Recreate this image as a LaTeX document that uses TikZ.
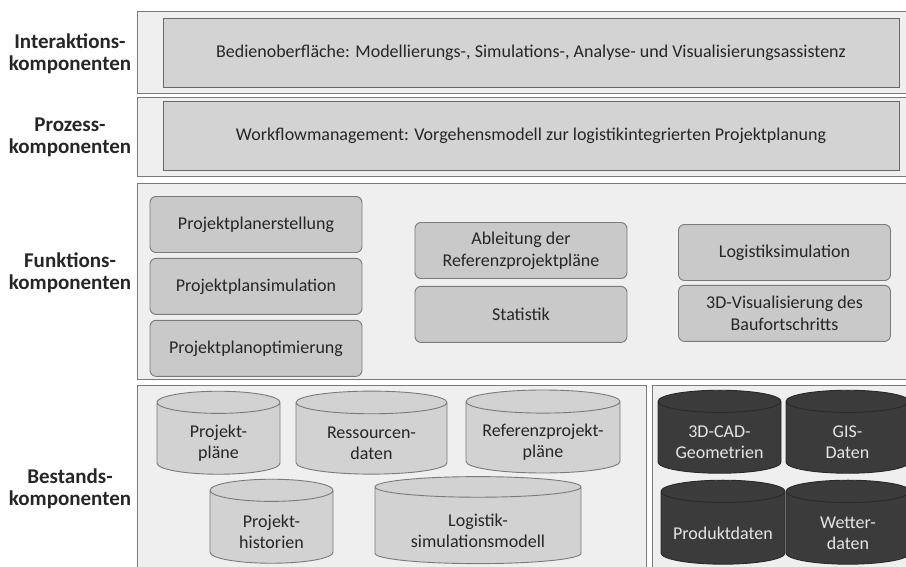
\documentclass[tikz,border=0pt]{standalone}
\usepackage{fontspec}
\setmainfont{Carlito}
\usetikzlibrary{positioning,shapes.geometric}
\definecolor{panel1}{HTML}{EFEFEF}
\definecolor{line1}{HTML}{7A7A7A}
\definecolor{box1}{HTML}{D3D3D3}
\definecolor{func1}{HTML}{C9C9C9}
\definecolor{db1}{HTML}{D2D2D2}
\definecolor{dark1}{HTML}{3B3B3B}
\definecolor{text1}{HTML}{262626}

\begin{document}
\begin{tikzpicture}[
    x=1pt, y=-1pt,
    layer/.style={draw=line1, fill=panel1, line width=0.9pt,
                  anchor=north west, inner sep=0pt},
    wide/.style={draw=line1!85!black, fill=box1, line width=0.9pt,
                 minimum width=736pt, minimum height=69pt,
                 font=\fontsize{18}{22}\selectfont, text=text1},
    func/.style={draw=line1, fill=func1, rounded corners=6pt,
                 line width=0.9pt, minimum width=212pt, minimum height=56pt,
                 align=center, font=\fontsize{18}{22}\selectfont, text=text1},
    dbtext/.style={align=center, font=\fontsize{18}{21}\selectfont,
                   text=text1, yshift=-5pt},
    db/.style={cylinder, shape border rotate=90, draw=line1, fill=db1,
               line width=0.9pt, inner xsep=0pt,
               label={[dbtext]center:{#1}}},
    ddb/.style={cylinder, shape border rotate=90, draw=dark1!70!black,
                fill=dark1, line width=0.9pt, inner xsep=0pt,
                label={[dbtext, text=white!90!black]center:{#1}}},
    oneline/.style={every label/.append style={yshift=12pt}},
    lbl/.style={align=center, font=\bfseries\fontsize{21}{22}\selectfont,
                text=text1},
]
\clip (0,0) rectangle (906,567);

% ── layers ──
\node[layer, minimum width=780pt, minimum height=82pt]  (lint) at (137,11) {};
\node[layer, minimum width=780pt, minimum height=79pt]  (lpro) at (137,97) {};
\node[layer, minimum width=780pt, minimum height=196pt] (lfun) at (137,183) {};
\node[layer, minimum width=509pt, minimum height=190pt] (lbes) at (137,385) {};
\node[layer, minimum width=260pt, minimum height=190pt] (lext) at (652,385) {};

% ── layer names ──
\node[lbl] (nint) at (70,54)  {Interaktions-\\komponenten};
\node[lbl] (npro) at (70,137) {Prozess-\\komponenten};
\node[lbl] (nfun) at (70,273) {Funktions-\\komponenten};
\node[lbl] (nbes) at (70,489) {Bestands-\\komponenten};

% ── interaction / process ──
\node[wide] (ui) at (531,52.5)
    {Bedienoberfläche: Modellierungs-, Simulations-, Analyse- und Visualisierungsassistenz};
\node[wide] (wf) at (531,135.5)
    {Workflowmanagement: Vorgehensmodell zur logistikintegrierten Projektplanung};

% ── functions ──
\node[func] (pers) at (256,224.5) {Projektplanerstellung};
\node[func, below=5pt of pers] (psim) {Projektplansimulation};
\node[func, below=5pt of psim] (popt) {Projektplanoptimierung};

\node[func] (ablt) at (521,250.5) {Ableitung der\\Referenzprojektpläne};
\node[func, below=7pt of ablt] (stat) {Statistik};

\node[func] (lsim) at (784.5,252.5) {Logistiksimulation};
\node[func, below=4pt of lsim] (visu) {3D-Visualisierung des\\Baufortschritts};

% ── data stores ──
\node[db={Projekt-\\pläne}, aspect=0.18, text width=123pt,
      minimum height=83pt] (dpp) at (218.5,438.5) {};
\node[db={Ressourcen-\\daten}, aspect=0.15, text width=151pt,
      minimum height=83pt] (dres) at (371.5,438.5) {};
\node[db={Referenzprojekt-\\pläne}, aspect=0.15, text width=154pt,
      minimum height=83pt] (dref) at (543,437.5) {};
\node[db={Projekt-\\historien}, aspect=0.18, text width=123pt,
      minimum height=84pt] (dhis) at (271.5,527) {};
\node[db={Logistik-\\simulationsmodell}, aspect=0.1, text width=206pt,
      minimum height=87pt] (dlog) at (478,525.5) {};

\node[ddb={3D-CAD-\\Geometrien}, aspect=0.18, text width=123pt,
      minimum height=83pt] (dcad) at (719.5,437.5) {};
\node[ddb={GIS-\\Daten}, aspect=0.18, text width=123pt,
      minimum height=83pt] (dgis) at (847.5,437.5) {};
\node[oneline, ddb={Produktdaten}, aspect=0.18, text width=124pt,
      minimum height=84pt] (dprd) at (723,528) {};
\node[ddb={Wetter-\\daten}, aspect=0.18, text width=124pt,
      minimum height=84pt] (dwet) at (848,528) {};

\end{tikzpicture}
\end{document}
